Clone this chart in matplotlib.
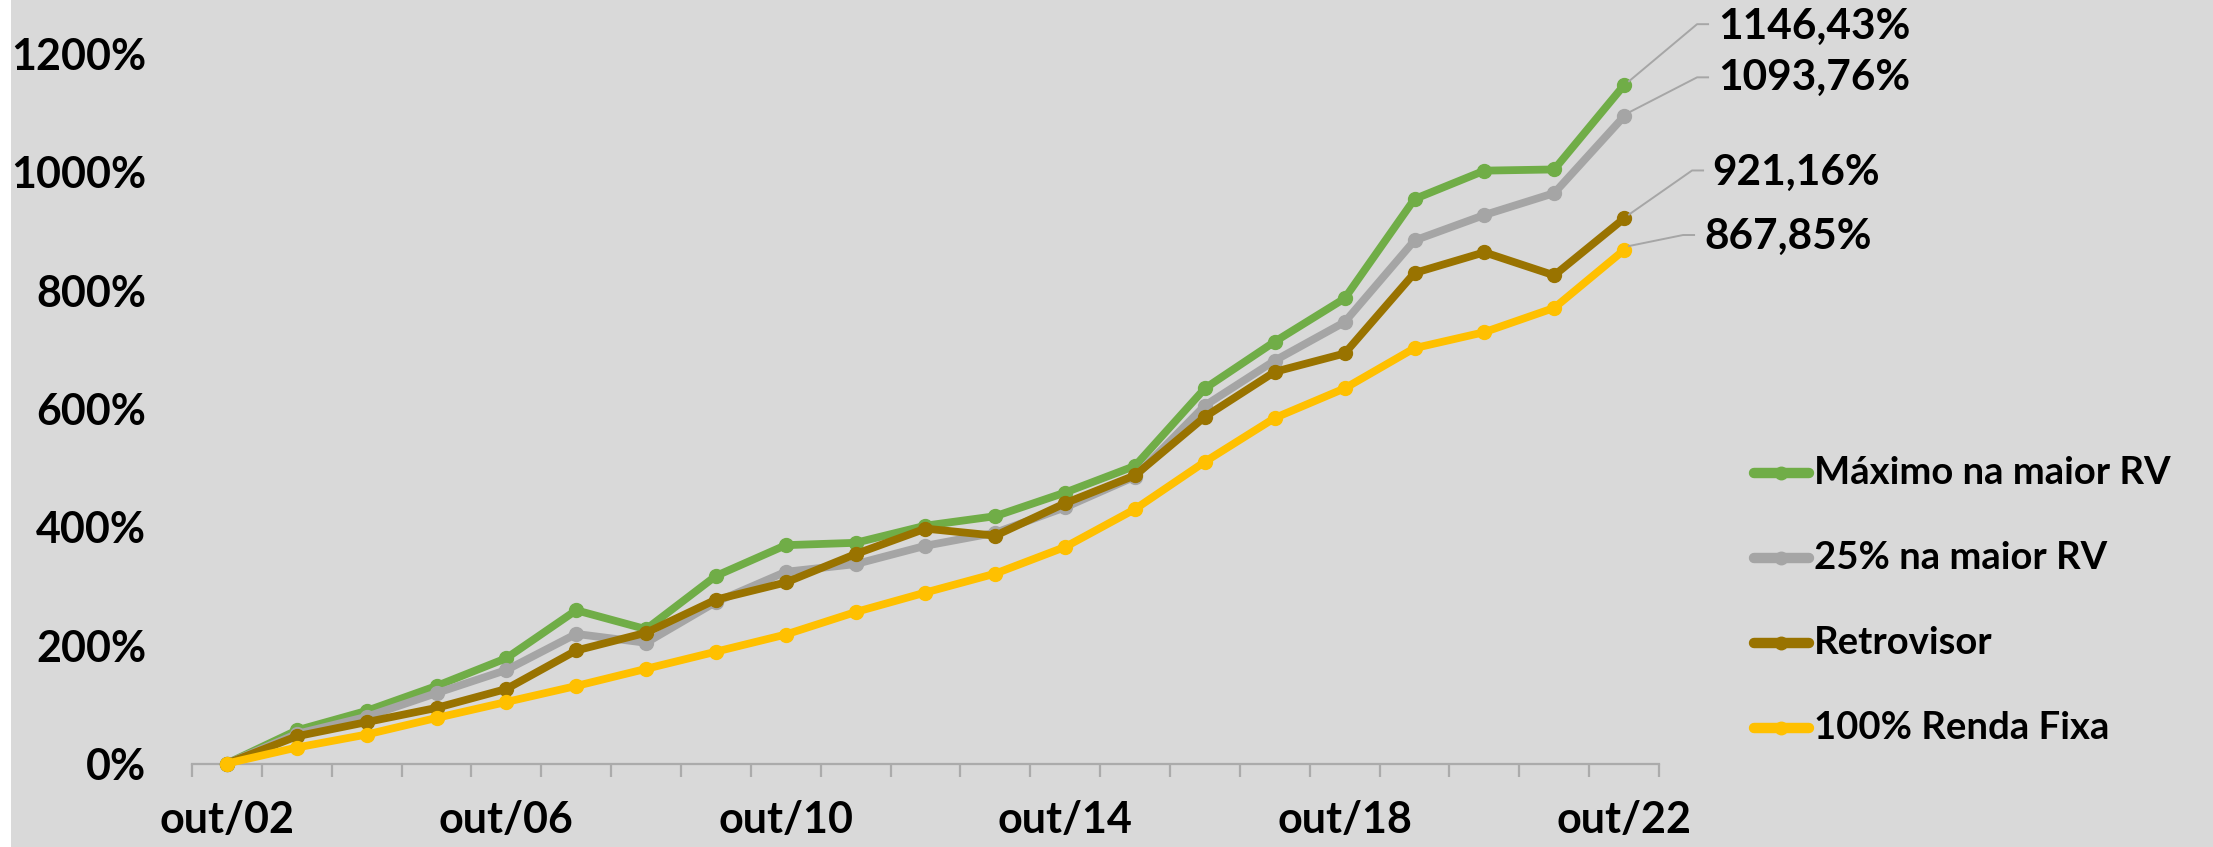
import matplotlib
matplotlib.use("Agg")
import matplotlib.pyplot as plt
from matplotlib.lines import Line2D
from matplotlib.patches import Rectangle
from matplotlib.transforms import offset_copy

plt.rcParams['font.family'] = ['Lato', 'DejaVu Sans']
plt.rcParams['font.weight'] = 'bold'

# ---- data ----
categories = ['out/%02d' % (y % 100) for y in range(2002, 2023)]
tick_labels = ['out/02', 'out/06', 'out/10', 'out/14', 'out/18', 'out/22']
series_names = ['Máximo na maior RV', '25% na maior RV', 'Retrovisor', '100% Renda Fixa']
maximo = [0, 56, 89, 131, 178, 259, 227, 317, 369, 373, 402, 418, 458, 503, 634, 713, 786, 954, 1002, 1004, 1146.43]
rv25 = [0, 50, 79, 119, 158, 219, 204, 273, 324, 337, 368, 390, 433, 485, 605, 681, 746, 884, 927, 964, 1093.76]
retrovisor = [0, 46, 70, 94, 126, 191, 221, 277, 306, 354, 397, 385, 440, 487, 586, 662, 693, 829, 864, 825, 921.16]
renda_fixa = [0, 27, 49, 77, 104, 131, 160, 189, 218, 256, 289, 321, 366, 430, 510, 584, 634, 702, 729, 770, 867.85]
end_labels = ['1146,43%', '1093,76%', '921,16%', '867,85%']
y_ticks = [0, 200, 400, 600, 800, 1000, 1200]

colors = ['#70AD47', '#A5A5A5', '#997300', '#FFC000']
all_series = [maximo, rv25, retrovisor, renda_fixa]

W, H = 2213, 847
BG = '#D9D9D9'
fig = plt.figure(figsize=(W / 100, H / 100), dpi=100, facecolor=BG)
fig.patches.append(Rectangle((0, 0), 11 / W, 1, transform=fig.transFigure,
                             facecolor='white', edgecolor='none', zorder=0))

x0_px, x1_px = 192, 1659
y0_px, ytop_px = 763.5, 23.9
ax = fig.add_axes([x0_px / W, 1 - y0_px / H, (x1_px - x0_px) / W, (y0_px - ytop_px) / H])
ax.set_facecolor('none')

x = list(range(len(categories)))
for i, (vals, c) in enumerate(zip(all_series, colors)):
    ax.plot(x, vals, color=c, lw=5.6, marker='o', ms=10, mec=c, mfc=c,
            solid_joinstyle='round', solid_capstyle='round', zorder=3 + i, clip_on=False)

ax.set_xlim(-0.5, len(categories) - 0.5)
ax.set_ylim(0, 1250)

for s in ['top', 'right', 'left']:
    ax.spines[s].set_visible(False)
ax.spines['bottom'].set_color('#ABABAB')
ax.spines['bottom'].set_linewidth(1.6)

ax.set_yticks(y_ticks)
ax.set_yticklabels(['%d%%' % v for v in y_ticks])
ax.tick_params(axis='y', length=0, pad=33, labelsize=31, labelcolor='black')

ax.set_xticks([i - 0.5 for i in range(len(categories) + 1)])
ax.set_xticklabels([])
ax.tick_params(axis='x', which='major', length=9.5, width=1.6, color='#ABABAB', direction='out')
ax.set_xticks([categories.index(t) for t in tick_labels], minor=True)
ax.set_xticklabels(tick_labels, minor=True)
ax.tick_params(axis='x', which='minor', length=0, pad=26, labelsize=31, labelcolor='black')

# end labels with leader lines (offsets in pixels from the last point)
leaders = [  # knee dx, dy, end dx, text dx, text dy
    (73, 61, 84, 94, 58),
    (73, 39, 84, 94, 38),
    (68, 48, 79, 88, 46),
    (59, 15, 70, 80, 13),
]
for vals, lab, (kx, ky, ex, tx, ty) in zip(all_series, end_labels, leaders):
    xl, yl = x[-1], vals[-1]
    base = ax.transData
    p0 = ax.transData.transform((xl, yl))
    pts = [(p0[0] + 5, p0[1] + 4), (p0[0] + kx, p0[1] + ky), (p0[0] + ex, p0[1] + ky)]
    fig.add_artist(Line2D([p[0] for p in pts], [p[1] for p in pts], transform=None,
                          color='#A6A6A6', lw=1.4, zorder=10))
    ax.text(xl, yl, lab, transform=offset_copy(base, fig=fig, x=tx, y=ty, units='dots'),
            ha='left', va='center', fontsize=30.5, fontweight='bold', color='black', clip_on=False)

# legend (manual)
leg_y = [473, 558, 643, 728]
for name, c, ly in zip(series_names, colors, leg_y):
    fy = 1 - ly / H
    fig.add_artist(Line2D([1754 / W, 1809 / W], [fy, fy], transform=fig.transFigure,
                          color=c, lw=7.5, solid_capstyle='round'))
    fig.add_artist(Line2D([1781 / W], [fy], transform=fig.transFigure, marker='o',
                          ms=9, color=c, lw=0))
    fig.text(1814 / W, fy, name, ha='left', va='center', fontsize=27.5,
             fontweight='bold', color='black')

fig.savefig('out.png', dpi=100, facecolor=BG)
